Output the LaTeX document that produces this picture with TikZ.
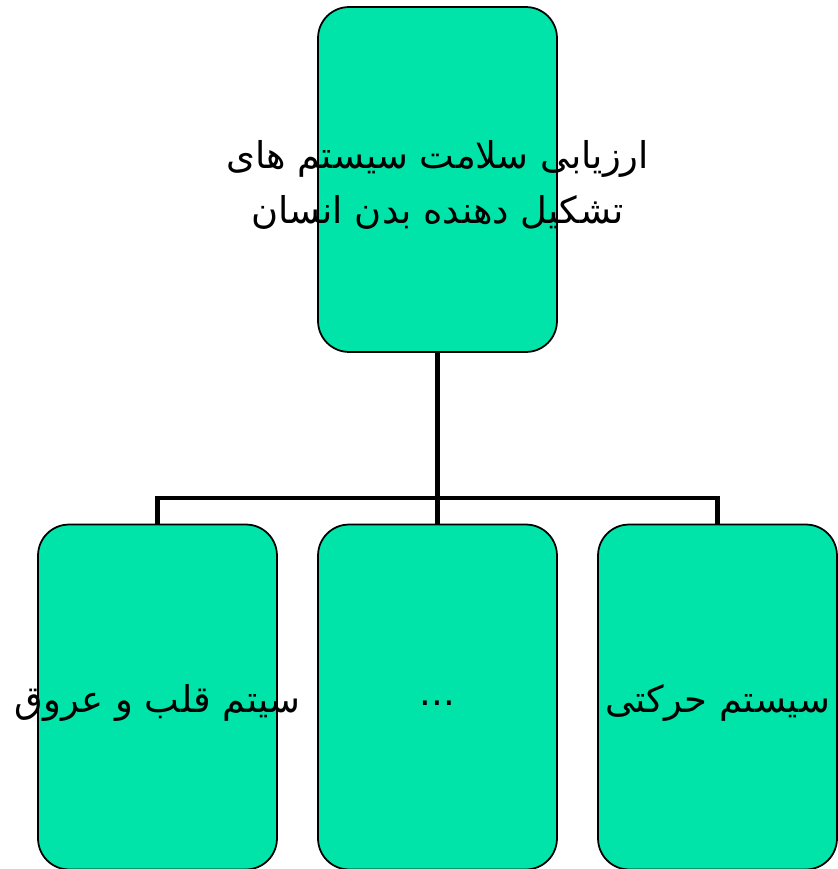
\documentclass[tikz,border=0pt]{standalone}
\usepackage{fontspec}
\newfontfamily\arabicfont[Script=Arabic]{DejaVu Sans}
\TeXXeTstate=1
\usetikzlibrary{positioning}
\definecolor{boxgreen}{RGB}{0,228,170}

\begin{document}
\begin{tikzpicture}[x=0.02cm,y=-0.02cm]
      \tikzset { unit/.style = { shape=rectangle,rounded corners=0.62cm,draw,line width=1pt,fill=boxgreen,minimum width=4.78cm,minimum height=6.9cm,inner sep=0pt } }
      \tikzset { caption/.style = { font=\arabicfont\fontsize{21}{31.3}\selectfont,align=center,inner sep=0pt } }
      \tikzset { link/.style = { line width=2.8pt,line join=miter } }

      \useasboundingbox (0,0) rectangle (838,869);

      \node[unit] (top) at (437.5,179.5) {};
      \node[unit] (heart) at (157.5,697) {};
      \node[unit] (etc) at (437.5,697) {};
      \node[unit] (motion) at (717.5,697) {};

      \node[caption,below=0.1cm of top.center,anchor=center] (toptext) {\beginR ارزیابی سلامت سیستم های\endR\\ \beginR تشکیل دهنده بدن انسان\endR};
      \node[caption,below=0.12cm of heart.center,anchor=center] (hearttext) {\beginR سیتم قلب و عروق\endR};
      \node[caption,below=0.12cm of etc.center,anchor=center] (etctext) {...};
      \node[caption,below=0.12cm of motion.center,anchor=center] (motiontext) {\beginR سیستم حرکتی\endR};

      \coordinate (bus) at (437.5,498);
      \draw[link] (top.south) -- (bus);
      \draw[link] (bus) -| (heart.north);
      \draw[link] (bus) -- (etc.north);
      \draw[link] (bus) -| (motion.north);

\end{tikzpicture}
\end{document}
